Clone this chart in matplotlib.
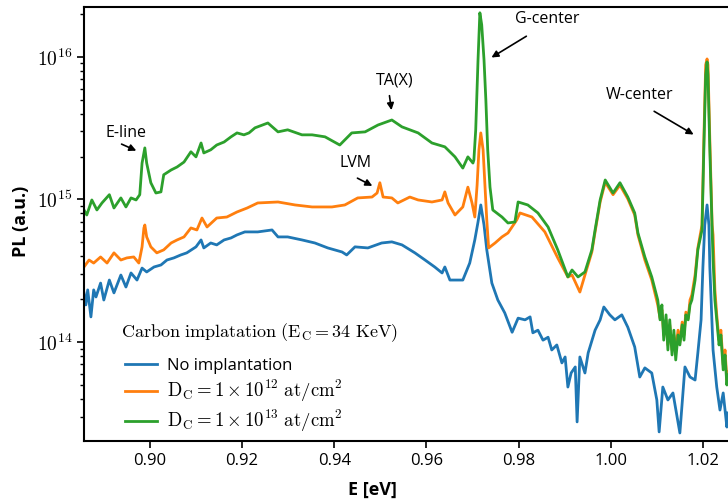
import numpy as np
import matplotlib
matplotlib.use('Agg')
import matplotlib.pyplot as plt
from matplotlib.ticker import FixedLocator, FuncFormatter, LogLocator, NullFormatter

plt.rcParams['mathtext.fontset'] = 'cm'
plt.rcParams['font.family'] = ['Open Sans', 'DejaVu Sans']

# photon energy [eV] and PL intensity (in units of 1e14, a.u.)
E_none = [0.8857, 0.8861, 0.8865, 0.8872, 0.8878, 0.8883, 0.8893, 0.8900, 0.8912, 0.8922,
          0.8937, 0.8948, 0.8959, 0.8972, 0.8983, 0.8993, 0.9009, 0.9024, 0.9037, 0.9052,
          0.9067, 0.9080, 0.9100, 0.9111, 0.9117, 0.9132, 0.9145, 0.9161, 0.9176, 0.9189,
          0.9206, 0.9234, 0.9265, 0.9278, 0.9299, 0.9330, 0.9358, 0.9386, 0.9417, 0.9427,
          0.9445, 0.9473, 0.9503, 0.9525, 0.9547, 0.9575, 0.9597, 0.9618, 0.9634, 0.9640,
          0.9651, 0.9668, 0.9679, 0.9694, 0.9705, 0.9712, 0.9718, 0.9725, 0.9731, 0.9742,
          0.9755, 0.9770, 0.9786, 0.9799, 0.9814, 0.9825, 0.9831, 0.9842, 0.9853, 0.9864,
          0.9872, 0.9883, 0.9894, 0.9901, 0.9907, 0.9914, 0.9923, 0.9927, 0.9933, 0.9944,
          0.9951, 0.9966, 0.9977, 0.9985, 0.9998, 1.0009, 1.0024, 1.0037, 1.0052, 1.0063,
          1.0074, 1.0089, 1.0100, 1.0105, 1.0113, 1.0124, 1.0135, 1.0150, 1.0161, 1.0172,
          1.0183, 1.0189, 1.0196, 1.0200, 1.0204, 1.0209, 1.0213, 1.0215, 1.0222, 1.0230,
          1.0237, 1.0244, 1.0252, 1.0254]
PL_none = [2.21, 1.82, 2.32, 1.50, 2.32, 2.07, 2.59, 1.97, 2.72, 2.21,
           2.95, 2.43, 3.05, 2.72, 3.30, 3.10, 3.36, 3.47, 3.76, 3.89,
           4.08, 4.22, 4.65, 5.20, 4.57, 4.95, 4.80, 5.20, 5.37, 5.64,
           5.92, 5.92, 6.11, 5.46, 5.46, 5.20, 4.95, 4.57, 4.28, 4.08,
           4.65, 4.57, 4.95, 5.04, 4.80, 4.22, 3.76, 3.36, 3.05, 3.36,
           2.72, 2.72, 2.72, 3.58, 5.20, 6.95, 9.15, 6.62, 4.43, 2.59,
           1.97, 1.60, 1.17, 1.47, 1.43, 1.50, 1.16, 1.21, 1.03, 1.08,
           0.879, 0.953, 0.713, 0.785, 0.483, 0.606, 0.668, 0.275, 0.785, 0.606,
           0.838, 1.21, 1.43, 1.76, 1.55, 1.43, 1.55, 1.27, 0.923, 0.568,
           0.658, 0.606, 0.392, 0.234, 0.483, 0.392, 0.439, 0.230, 0.668, 0.568,
           0.541, 0.838, 1.43, 3.36, 6.62, 9.15, 6.62, 3.36, 0.879, 0.483,
           0.333, 0.439, 0.253, 0.318]

E_d12 = [0.8857, 0.8868, 0.8878, 0.8893, 0.8907, 0.8922, 0.8937, 0.8950, 0.8965, 0.8976,
         0.8983, 0.8987, 0.8989, 0.8993, 0.9002, 0.9015, 0.9030, 0.9046, 0.9059, 0.9074,
         0.9089, 0.9102, 0.9113, 0.9124, 0.9145, 0.9167, 0.9189, 0.9211, 0.9234, 0.9278,
         0.9315, 0.9352, 0.9395, 0.9423, 0.9451, 0.9482, 0.9493, 0.9499, 0.9506, 0.9525,
         0.9538, 0.9564, 0.9582, 0.9612, 0.9634, 0.9640, 0.9647, 0.9662, 0.9679, 0.9690,
         0.9699, 0.9705, 0.9710, 0.9714, 0.9718, 0.9723, 0.9727, 0.9731, 0.9735, 0.9749,
         0.9764, 0.9777, 0.9796, 0.9803, 0.9829, 0.9857, 0.9885, 0.9907, 0.9916, 0.9933,
         0.9944, 0.9959, 0.9966, 0.9977, 0.9988, 1.0005, 1.0020, 1.0037, 1.0052, 1.0059,
         1.0074, 1.0089, 1.0102, 1.0107, 1.0111, 1.0115, 1.0120, 1.0124, 1.0128, 1.0133,
         1.0137, 1.0141, 1.0146, 1.0150, 1.0155, 1.0159, 1.0163, 1.0168, 1.0172, 1.0176,
         1.0183, 1.0189, 1.0198, 1.0202, 1.0206, 1.0209, 1.0211, 1.0215, 1.0220, 1.0222,
         1.0226, 1.0230, 1.0235, 1.0239, 1.0244, 1.0248, 1.0252, 1.0254]
PL_d12 = [3.36, 3.76, 3.58, 3.95, 3.58, 4.22, 3.76, 3.89, 3.95, 3.58,
          4.65, 6.31, 6.62, 5.46, 4.65, 4.22, 4.43, 4.95, 5.20, 5.46,
          6.31, 6.11, 7.41, 6.41, 7.41, 7.53, 8.17, 8.71, 9.45, 9.60,
          9.15, 8.86, 8.86, 9.15, 10.25, 10.4, 11.1, 13.1, 10.4, 10.25,
          9.45, 10.4, 9.92, 9.60, 9.92, 11.3, 9.45, 7.78, 8.86, 12.2,
          9.45, 7.53, 12.6, 22.3, 29.3, 22.3, 12.6, 7.18, 4.57, 4.95,
          5.46, 5.82, 7.18, 8.04, 7.53, 5.92, 3.89, 2.86, 2.95, 2.24,
          2.95, 4.28, 5.92, 9.60, 13.2, 10.8, 12.6, 10.1, 7.78, 5.64,
          3.76, 2.72, 1.82, 1.47, 1.68, 1.12, 1.43, 0.953, 1.32, 0.879,
          1.12, 0.879, 1.21, 1.00, 1.38, 1.12, 1.62, 1.47, 1.97, 2.14,
          2.95, 4.57, 6.62, 26.2, 87.9, 96.8, 87.9, 26.2, 6.62, 5.64,
          2.32, 1.55, 1.03, 1.21, 0.690, 0.879, 0.541, 0.616]

E_d13 = [0.8857, 0.8863, 0.8874, 0.8885, 0.8896, 0.8912, 0.8922, 0.8937, 0.8948, 0.8959,
         0.8970, 0.8978, 0.8983, 0.8989, 0.8993, 0.9002, 0.9013, 0.9024, 0.9030, 0.9046,
         0.9059, 0.9074, 0.9089, 0.9100, 0.9111, 0.9117, 0.9132, 0.9145, 0.9161, 0.9176,
         0.9189, 0.9204, 0.9215, 0.9228, 0.9256, 0.9278, 0.9299, 0.9330, 0.9352, 0.9380,
         0.9412, 0.9438, 0.9467, 0.9495, 0.9525, 0.9547, 0.9582, 0.9612, 0.9640, 0.9662,
         0.9679, 0.9690, 0.9701, 0.9703, 0.9707, 0.9712, 0.9716, 0.9720, 0.9725, 0.9729,
         0.9733, 0.9738, 0.9744, 0.9764, 0.9777, 0.9792, 0.9799, 0.9820, 0.9842, 0.9864,
         0.9885, 0.9907, 0.9916, 0.9929, 0.9944, 0.9959, 0.9966, 0.9977, 0.9988, 1.0005,
         1.0020, 1.0037, 1.0052, 1.0059, 1.0074, 1.0089, 1.0102, 1.0107, 1.0111, 1.0115,
         1.0120, 1.0124, 1.0128, 1.0133, 1.0137, 1.0141, 1.0146, 1.0150, 1.0155, 1.0159,
         1.0163, 1.0168, 1.0172, 1.0176, 1.0183, 1.0189, 1.0198, 1.0202, 1.0206, 1.0209,
         1.0211, 1.0215, 1.0220, 1.0222, 1.0226, 1.0230, 1.0235, 1.0239, 1.0244, 1.0248,
         1.0252, 1.0254]
PL_d13 = [8.44, 7.78, 9.92, 8.44, 9.45, 10.8, 8.71, 10.25, 8.86, 10.25,
          9.92, 10.8, 18.0, 23.0, 18.0, 13.1, 11.1, 11.3, 14.9, 16.1,
          16.9, 18.3, 21.6, 19.9, 24.9, 21.2, 22.3, 24.1, 25.3, 27.5,
          29.3, 28.4, 29.3, 31.8, 34.4, 29.8, 30.8, 28.4, 28.4, 27.5,
          24.1, 29.3, 29.8, 33.3, 36.1, 32.3, 29.3, 24.9, 23.4, 19.9,
          16.6, 19.9, 18.0, 18.9, 30.8, 95.3, 204, 168, 95.3, 49.9,
          22.3, 12.2, 8.44, 7.53, 6.84, 6.95, 9.60, 9.15, 8.04, 6.41,
          4.43, 2.86, 3.20, 2.86, 3.10, 4.43, 6.11, 9.92, 13.7, 11.1,
          13.1, 10.4, 8.04, 5.82, 3.95, 2.86, 1.97, 1.43, 1.82, 1.03,
          1.55, 0.879, 1.43, 0.811, 1.21, 0.748, 1.12, 0.953, 1.32, 1.03,
          1.55, 1.43, 1.82, 1.97, 2.72, 4.43, 6.11, 22.3, 74.8, 92.3,
          74.8, 22.3, 6.11, 3.76, 1.97, 1.43, 0.953, 1.12, 0.637, 0.811,
          0.499, 0.586]

labels = ['No implantation',
          r'$\mathrm{D_C = 1 \times 10^{12}\ at/cm^2}$',
          r'$\mathrm{D_C = 1 \times 10^{13}\ at/cm^2}$']
colors = ['#1f77b4', '#ff7f0e', '#2ca02c']

scale = 1e14

fig = plt.figure(figsize=(7.28, 5.0), dpi=100)
ax = fig.add_axes([84 / 728, 1 - 441 / 500, 665 / 728, 434 / 500])

ax.plot(E_none, np.array(PL_none) * scale, color=colors[0], lw=2, label=labels[0])
ax.plot(E_d12, np.array(PL_d12) * scale, color=colors[1], lw=2, label=labels[1])
ax.plot(E_d13, np.array(PL_d13) * scale, color=colors[2], lw=2, label=labels[2])

ax.set_yscale('log')
ax.set_xlim(0.8857, 1.03)
ax.set_ylim(2.02e13, 2.24e16)

ax.xaxis.set_major_locator(FixedLocator([0.90, 0.92, 0.94, 0.96, 0.98, 1.00, 1.02]))
ax.xaxis.set_major_formatter(FuncFormatter(lambda v, p: f'{v:.2f}'))
ax.yaxis.set_major_locator(LogLocator(base=10, numticks=10))
ax.yaxis.set_minor_locator(LogLocator(base=10, subs=np.arange(2, 10), numticks=20))
ax.yaxis.set_major_formatter(FuncFormatter(lambda v, p: r'$10^{%d}$' % round(np.log10(v))))
ax.yaxis.set_minor_formatter(NullFormatter())
ax.tick_params(axis='x', labelsize=12, width=1.2, length=5)
ax.tick_params(axis='y', which='major', labelsize=14, width=1.2, length=5)
ax.tick_params(axis='y', which='minor', width=1, length=3)
for s in ['left', 'top', 'bottom', 'right']:
    ax.spines[s].set_linewidth(1.5)

ax.set_xlabel('E [eV]', fontsize=13, fontweight='bold')
ax.set_ylabel('PL (a.u.)', fontsize=13, fontweight='bold')
ax.xaxis.set_label_coords(0.433, -0.092)
ax.yaxis.set_label_coords(-0.081, 0.507)

# peak labels
arrow = dict(arrowstyle='-|>', color='black', lw=1.2, mutation_scale=10)
notes = [('E-line', (0.8948, 2.93e15), (0.8933, 2.49e15), (0.8976, 2.16e15)),
         ('LVM', (0.9447, 1.80e15), (0.9445, 1.44e15), (0.9488, 1.22e15)),
         ('TA(X)', (0.9532, 6.79e15), (0.9519, 5.59e15), (0.9525, 4.05e15)),
         ('G-center', (0.9862, 1.85e16), (0.9822, 1.43e16), (0.9736, 9.68e15)),
         ('W-center', (1.0063, 5.41e15), (1.0089, 4.25e15), (1.0185, 2.79e15))]
for txt, pos, tail, tip in notes:
    ax.text(pos[0], pos[1], txt, fontsize=11.5, ha='center', va='center')
    ax.annotate('', xy=tip, xytext=tail, arrowprops=arrow)

# legend title drawn on its own so the gap to the entries matches
ax.text(0.0556, 0.249, r'$\mathrm{Carbon\ implatation\ (E_C = 34\ KeV)}$',
        transform=ax.transAxes, fontsize=13, ha='left', va='center')
leg = ax.legend(loc='upper left', bbox_to_anchor=(0.039, 0.226), frameon=False,
                fontsize=12, handlelength=1.95, handletextpad=0.6, labelspacing=0.22)
for t in leg.get_texts()[1:]:
    t.set_fontsize(13.5)

fig.savefig('out.png', dpi=100)
